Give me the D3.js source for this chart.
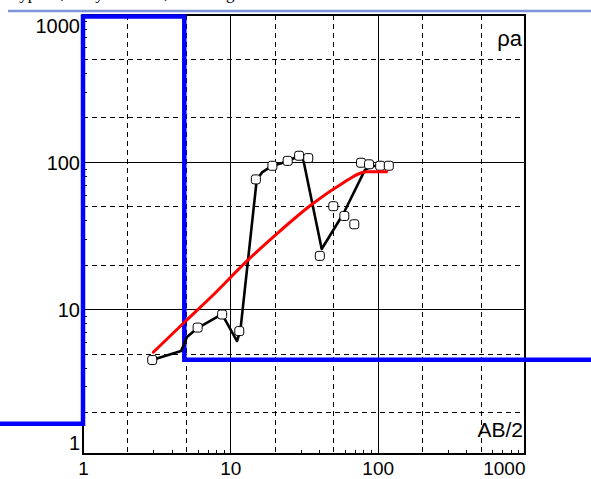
<!DOCTYPE html>
<html>
<head>
<meta charset="utf-8">
<script src="https://cdn.jsdelivr.net/npm/d3@7"></script>
<style>
  html, body { margin: 0; padding: 0; background: #fff; }
  svg { display: block; }
</style>
</head>
<body>
<svg id="chart" width="591" height="479"></svg>
<script>
// Axis ticks (AB/2 on x, apparent resistivity on y, both logarithmic)
const xTickValues = [1, 10, 100, 1000];
const xTickLabels = ["1", "10", "100", "1000"];
const yTickValues = [1, 10, 100, 1000];
const yTickLabels = ["1", "10", "100", "1000"];

// Field sounding: observed apparent resistivity
const obsAB2 = [2.95, 6.0, 8.8, 11.5, 14.9, 19.3, 24.5, 29.3, 33.8, 40.5, 50, 59.4, 69.4, 77.1, 87.4, 104, 119];
const obsRho = [4.52, 7.5, 9.2, 7.1, 76, 94, 101.5, 110, 106, 23.0, 50, 42.9, 37.7, 98.6, 96.2, 94.1, 94.1];

// Edited sounding curve
const curveAB2 = [2.94, 4.63, 5.08, 5.99, 8.78, 11.1, 11.7, 15.1, 16.4, 19.2, 24.6, 29.2, 31.1, 41.7, 58.6, 82.0, 91.6, 100.5];
const curveRho = [4.52, 5.20, 6.47, 7.45, 9.27, 6.08, 7.17, 75.3, 84.7, 93.8, 101, 110, 106, 25.6, 44.6, 88.1, 93.8, 93.8];

// Theoretical response of the layered model
const fitAB2 = [3.0, 4.92, 7.28, 13.2, 21.7, 35.3, 55.5, 84.3, 115];
const fitRho = [5.10, 8.22, 11.9, 21.6, 33.9, 50.9, 69.7, 85.7, 85.7];

// Layered model: layer resistivities and depths to layer bottoms
const layerRho = [1.67, 970, 4.54];
const layerDepth = [1, 4.87];

const W = 591, H = 479;
const plot = { left: 83, right: 525, top: 14.5, bottom: 454 };

const svg = d3.select("#chart");
const x = d3.scaleLog().domain([1, 1000]).range([plot.left, plot.right]);
const y = d3.scaleLog().domain([1.04, 1000]).range([plot.bottom, plot.top]);

// Header strip
svg.append("text")
  .attr("x", 10).attr("y", -1)
  .attr("font-family", "'Liberation Serif', 'Times New Roman', serif")
  .attr("font-size", 17)
  .attr("fill", "#000")
  .text("Type K, 3-layer model, sounding curve");
svg.append("line")
  .attr("x1", 8).attr("x2", W).attr("y1", 11).attr("y2", 11)
  .attr("stroke", "#7d95d8").attr("stroke-width", 2.5);

// Grid
const major = [10, 100];
const minorDashed = [2, 5, 20, 50, 200, 500];
const small = [];
[1, 10, 100].forEach(d => [3, 4, 6, 7, 8, 9].forEach(m => small.push(d * m)));

const grid = svg.append("g").attr("shape-rendering", "crispEdges");
grid.selectAll(".vd").data(minorDashed).enter().append("line")
  .attr("x1", d => Math.round(x(d)) + 0.5).attr("x2", d => Math.round(x(d)) + 0.5)
  .attr("y1", plot.top).attr("y2", plot.bottom)
  .attr("stroke", "#000").attr("stroke-width", 1).attr("stroke-dasharray", "5,4");
grid.selectAll(".hd").data(minorDashed).enter().append("line")
  .attr("y1", d => Math.round(y(d)) + 0.5).attr("y2", d => Math.round(y(d)) + 0.5)
  .attr("x1", plot.left).attr("x2", plot.right)
  .attr("stroke", "#000").attr("stroke-width", 1).attr("stroke-dasharray", "5,4");
grid.selectAll(".vm").data(major).enter().append("line")
  .attr("x1", d => Math.round(x(d)) + 0.5).attr("x2", d => Math.round(x(d)) + 0.5)
  .attr("y1", plot.top).attr("y2", plot.bottom)
  .attr("stroke", "#000").attr("stroke-width", 1);
grid.selectAll(".hm").data(major).enter().append("line")
  .attr("y1", d => Math.round(y(d)) + 0.5).attr("y2", d => Math.round(y(d)) + 0.5)
  .attr("x1", plot.left).attr("x2", plot.right)
  .attr("stroke", "#000").attr("stroke-width", 1);

// Small ticks along the bottom and left axes
grid.selectAll(".xt").data(small).enter().append("line")
  .attr("x1", d => Math.round(x(d)) + 0.5).attr("x2", d => Math.round(x(d)) + 0.5)
  .attr("y1", plot.bottom).attr("y2", plot.bottom - 4)
  .attr("stroke", "#000");
grid.selectAll(".yt").data(small).enter().append("line")
  .attr("y1", d => Math.round(y(d)) + 0.5).attr("y2", d => Math.round(y(d)) + 0.5)
  .attr("x1", plot.left).attr("x2", plot.left + 4)
  .attr("stroke", "#000");

// Frame
svg.append("rect")
  .attr("x", plot.left).attr("y", plot.top)
  .attr("width", plot.right - plot.left).attr("height", plot.bottom - plot.top)
  .attr("fill", "none").attr("stroke", "#000").attr("stroke-width", 2)
  .attr("shape-rendering", "crispEdges");

// Axes labels via d3 axes
const fontSans = "'Liberation Sans', Arial, sans-serif";
const xAxis = d3.axisBottom(x).tickValues(xTickValues)
  .tickFormat((d, i) => xTickLabels[i]).tickSize(0).tickPadding(0);
const gx = svg.append("g").attr("transform", `translate(0,${plot.bottom})`).call(xAxis);
gx.select(".domain").remove();
gx.selectAll("text")
  .attr("font-family", fontSans).attr("font-size", 19).attr("fill", "#000")
  .attr("dy", null).attr("y", 20.5)
  .attr("x", function (d) {
    const half = this.getComputedTextLength() / 2;
    const cx = x(d);
    return Math.min(cx, plot.right - half) - cx;
  });

const yAxis = d3.axisLeft(y).tickValues(yTickValues)
  .tickFormat((d, i) => yTickLabels[i]).tickSize(0).tickPadding(3);
const gy = svg.append("g").attr("transform", `translate(${plot.left},0)`).call(yAxis);
gy.select(".domain").remove();
gy.selectAll("text")
  .attr("font-family", fontSans).attr("font-size", 20).attr("fill", "#000")
  .attr("dy", "0.36em")
  .attr("y", d => {
    const cy = y(d);
    return Math.max(plot.top + 11, Math.min(plot.bottom - 12, cy)) - cy;
  });

// Layered model (step line across the whole width)
const xLeft = x.invert(0), xRight = x.invert(W);
const modelPts = [[xLeft, layerRho[0]]];
layerDepth.forEach((dep, i) => {
  modelPts.push([dep, layerRho[i]]);
  modelPts.push([dep, layerRho[i + 1]]);
});
modelPts.push([xRight, layerRho[layerRho.length - 1]]);
svg.append("path")
  .datum(modelPts)
  .attr("d", d3.line().x(d => x(d[0])).y(d => y(d[1])))
  .attr("fill", "none").attr("stroke", "#0000ff").attr("stroke-width", 4.5)
  .attr("stroke-linejoin", "miter");

// Sounding curve
const curvePts = curveAB2.map((a, i) => [a, curveRho[i]]);
svg.append("path")
  .datum(curvePts)
  .attr("d", d3.line().x(d => x(d[0])).y(d => y(d[1])))
  .attr("fill", "none").attr("stroke", "#000").attr("stroke-width", 2.6)
  .attr("stroke-linejoin", "round");

// Observation markers
const obsPts = obsAB2.map((a, i) => [a, obsRho[i]]);
svg.selectAll(".obs").data(obsPts).enter().append("rect")
  .attr("x", d => x(d[0]) - 4.5).attr("y", d => y(d[1]) - 4.5)
  .attr("width", 9).attr("height", 9).attr("rx", 2.5)
  .attr("fill", "#fff").attr("stroke", "#000").attr("stroke-width", 1);

// Model response
const fitPts = fitAB2.map((a, i) => [a, fitRho[i]]);
svg.append("path")
  .datum(fitPts)
  .attr("d", d3.line().x(d => x(d[0])).y(d => y(d[1])).curve(d3.curveMonotoneX))
  .attr("fill", "none").attr("stroke", "#ff0000").attr("stroke-width", 3)
  .attr("stroke-linecap", "round");

// Corner captions
svg.append("text")
  .attr("x", 522).attr("y", 46).attr("text-anchor", "end")
  .attr("font-family", fontSans).attr("font-size", 22).attr("fill", "#000")
  .text("ρa");
svg.append("text")
  .attr("x", 523).attr("y", 437).attr("text-anchor", "end")
  .attr("font-family", fontSans).attr("font-size", 21).attr("fill", "#000")
  .text("AB/2");
</script>
</body>
</html>
